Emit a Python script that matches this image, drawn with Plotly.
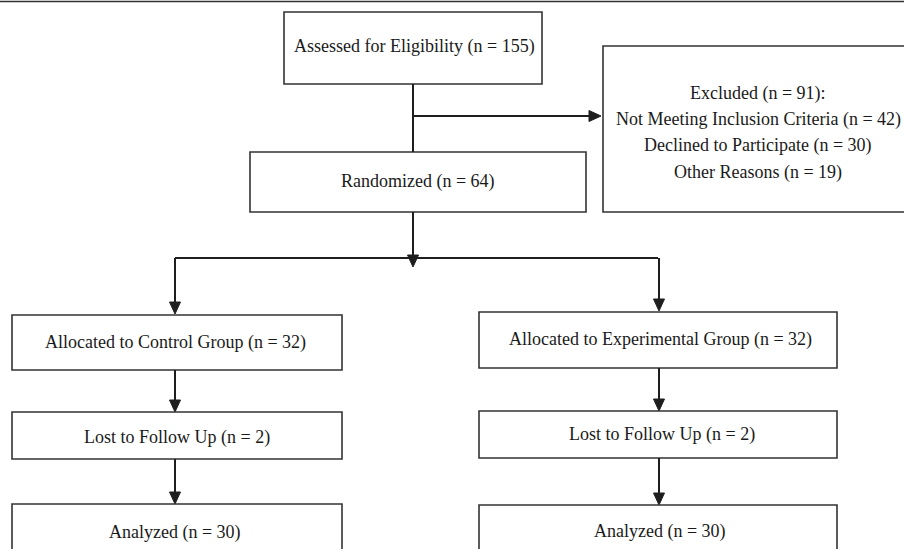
import plotly.graph_objects as go

# ---- data ----
enrol_labels = ["Assessed for Eligibility", "Randomized"]
enrol_counts = [155, 64]
excl_header = "Excluded"
excl_total = 91
excl_reasons = ["Not Meeting Inclusion Criteria", "Declined to Participate", "Other Reasons"]
excl_counts = [42, 30, 19]
groups = ["Control", "Experimental"]
allocated = [32, 32]
lost = [2, 2]
analyzed = [30, 30]

W, H = 904, 549
FONT = "Liberation Serif"
FS = 18
LINE = "#1e1e1e"
BOX = "#333333"

fig = go.Figure()
shapes = []
annots = []


def box(x0, x1, y0, y1):
    shapes.append(dict(type="rect", x0=x0, x1=x1, y0=y0, y1=y1, xref="x", yref="y",
                       line=dict(color=BOX, width=1.6), fillcolor="rgba(0,0,0,0)", layer="above"))


def label(x, y, t):
    annots.append(dict(x=x, y=y, xref="x", yref="y", text=t, showarrow=False,
                       font=dict(family=FONT, size=FS, color="#1a1a1a"),
                       xanchor="center", yanchor="middle"))


def seg(x0, y0, x1, y1):
    shapes.append(dict(type="line", x0=x0, y0=y0, x1=x1, y1=y1, xref="x", yref="y",
                       line=dict(color=LINE, width=2)))


def head_down(x, tip):
    shapes.append(dict(type="path", xref="x", yref="y",
                       path=f"M {x-5.5},{tip-12} L {x+5.5},{tip-12} L {x},{tip} Z",
                       fillcolor=LINE, line=dict(color=LINE, width=1)))


def head_right(tip, y):
    shapes.append(dict(type="path", xref="x", yref="y",
                       path=f"M {tip-12},{y-5.5} L {tip-12},{y+5.5} L {tip},{y} Z",
                       fillcolor=LINE, line=dict(color=LINE, width=1)))


def nlab(name, n):
    return f"{name} (n = {n})"


# top rule
shapes.append(dict(type="line", x0=0, x1=W, y0=1.5, y1=1.5, xref="x", yref="y",
                   line=dict(color="#333333", width=1.5)))

# assessed
box(284, 542, 12, 84)
label(414, 46, nlab(enrol_labels[0], enrol_counts[0]))

# excluded
box(603, 915, 46, 212)
ex_lines = [f"{excl_header} (n = {excl_total}):"] + [nlab(r, c) for r, c in zip(excl_reasons, excl_counts)]
for i, t in enumerate(ex_lines):
    label(758, 93 + i * 26.4, t)

# randomized
box(250, 586, 152, 212)
label(418, 181, nlab(enrol_labels[1], enrol_counts[1]))

# connectors top
seg(413, 84, 413, 152)
seg(413, 116, 590, 116)
head_right(601, 116)
seg(413, 212, 413, 258)
head_down(413, 267)
seg(175, 258, 658, 258)

# group columns
cols = [dict(x0=12, x1=342, cx=175, ax=175, tops=[315, 412, 504], bots=[370, 459], ty=[342, 437, 532]),
        dict(x0=479, x1=837, cx=660, ax=659, tops=[312, 411, 505], bots=[368, 458], ty=[339, 434, 531])]

for g, c, a, l, an in zip(groups, cols, allocated, lost, analyzed):
    # allocated
    seg(c["ax"], 258, c["ax"], c["tops"][0] - 8)
    head_down(c["ax"], c["tops"][0] - 1)
    box(c["x0"], c["x1"], c["tops"][0], c["bots"][0])
    label(c["cx"], c["ty"][0], nlab(f"Allocated to {g} Group", a))
    # lost
    seg(c["ax"], c["bots"][0], c["ax"], c["tops"][1] - 8)
    head_down(c["ax"], c["tops"][1])
    box(c["x0"], c["x1"], c["tops"][1], c["bots"][1])
    label(c["cx"] + 2, c["ty"][1], nlab("Lost to Follow Up", l))
    # analyzed
    seg(c["ax"], c["bots"][1], c["ax"], c["tops"][2] - 8)
    head_down(c["ax"], c["tops"][2])
    box(c["x0"], c["x1"], c["tops"][2], c["tops"][2] + 80)
    label(c["cx"], c["ty"][2], nlab("Analyzed", an))

fig.update_layout(
    width=W, height=H,
    margin=dict(l=0, r=0, t=0, b=0),
    paper_bgcolor="white", plot_bgcolor="white",
    xaxis=dict(range=[0, W], visible=False, fixedrange=True),
    yaxis=dict(range=[H, 0], visible=False, fixedrange=True),
    shapes=shapes, annotations=annots, showlegend=False,
)

fig.write_html("out.html", config={"displayModeBar": False},
               post_script="document.body.style.margin='0';document.body.style.overflow='hidden';")
